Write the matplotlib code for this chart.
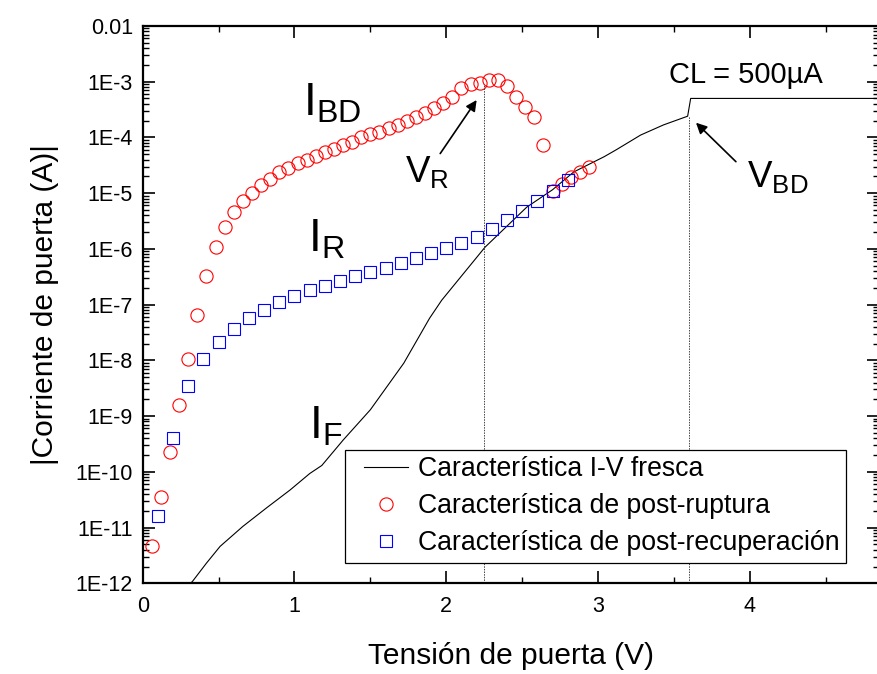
import matplotlib
matplotlib.use("Agg")
import matplotlib.pyplot as plt
import numpy as np
from matplotlib.lines import Line2D
from matplotlib.legend_handler import HandlerLine2D
from matplotlib.ticker import FixedLocator, MultipleLocator, LogLocator, NullFormatter

plt.rcParams['font.family'] = ['Liberation Sans', 'DejaVu Sans']
plt.rcParams['mathtext.fontset'] = 'custom'
plt.rcParams['mathtext.rm'] = 'Liberation Sans'
plt.rcParams['mathtext.it'] = 'Liberation Sans:italic'
plt.rcParams['mathtext.default'] = 'regular'

# fresh I-V characteristic (gate voltage in V, |I| in A)
fresh_v = [0.30, 0.33, 0.42, 0.51, 0.66, 0.82, 0.97, 1.10, 1.18, 1.32, 1.50, 1.72,
           1.89, 1.97, 2.255, 2.53, 2.70, 2.84, 3.04, 3.12, 3.28, 3.43, 3.59, 3.61, 4.85]
fresh_i = [9.0e-13, 1.1e-12, 2.3e-12, 4.6e-12, 1.05e-11, 2.3e-11, 4.7e-11, 9.3e-11,
           1.3e-10, 3.7e-10, 1.3e-9, 8.9e-9, 5.7e-8, 1.2e-7, 1.07e-6, 5.6e-6, 1.15e-5,
           2.4e-5, 4.5e-5, 6.0e-5, 1.1e-4, 1.67e-4, 2.4e-4, 5.0e-4, 5.0e-4]

# post-breakdown characteristic, 0.06 V step
bd_v = np.round(0.06 * np.arange(1, 50), 2)
bd_i = [4.7e-12, 3.5e-11, 2.3e-10, 1.55e-9, 1.05e-8, 6.6e-8, 3.2e-7, 1.1e-6, 2.45e-6,
        4.5e-6, 7.1e-6, 1.02e-5, 1.4e-5, 1.8e-5, 2.35e-5, 2.8e-5, 3.4e-5, 3.9e-5,
        4.7e-5, 5.4e-5, 6.3e-5, 7.2e-5, 8.3e-5, 1.0e-4, 1.15e-4, 1.26e-4, 1.48e-4,
        1.66e-4, 2.0e-4, 2.3e-4, 2.75e-4, 3.3e-4, 4.1e-4, 5.4e-4, 7.6e-4, 9.1e-4,
        9.5e-4, 1.05e-3, 1.07e-3, 8.3e-4, 5.2e-4, 3.5e-4, 2.3e-4, 7.2e-5, 1.1e-5,
        1.45e-5, 1.95e-5, 2.4e-5, 2.95e-5]

# post-recovery characteristic, 0.1 V step
rec_v = np.round(0.1 * np.arange(1, 29), 2)
rec_i = [1.6e-11, 4.0e-10, 3.5e-9, 1.05e-8, 2.1e-8, 3.6e-8, 5.8e-8, 7.9e-8, 1.1e-7,
         1.45e-7, 1.8e-7, 2.2e-7, 2.6e-7, 3.2e-7, 3.9e-7, 4.6e-7, 5.5e-7, 6.8e-7,
         8.3e-7, 1.02e-6, 1.3e-6, 1.66e-6, 2.25e-6, 3.3e-6, 4.8e-6, 7.2e-6, 1.1e-5,
         1.75e-5]

V_R, I_VR = 2.25, 9.1e-4
V_BD, I_VBD = 3.6, 2.4e-4

ytick_vals = [1e-12, 1e-11, 1e-10, 1e-9, 1e-8, 1e-7, 1e-6, 1e-5, 1e-4, 1e-3, 1e-2]
ytick_labels = ["1E-12", "1E-11", "1E-10", "1E-9", "1E-8", "1E-7", "1E-6", "1E-5",
                "1E-4", "1E-3", "0.01"]

fig = plt.figure(figsize=(8.77, 6.74), dpi=100)
ax = fig.add_axes([142.7 / 877, 1 - 583.3 / 674, (878.9 - 142.7) / 877, 557.4 / 674])

ax.plot(fresh_v, fresh_i, color="black", lw=0.8, label="Característica I-V fresca")
ax.plot(bd_v, bd_i, ls="none", marker="o", ms=9.5, mfc="none", mec="#ff0000", mew=0.8,
        label="Característica de post-ruptura")
ax.plot(rec_v, rec_i, ls="none", marker="s", ms=8.2, mfc="none", mec="#0000ff", mew=0.8,
        label="Característica de post-recuperación")

ax.vlines([V_R, V_BD], 1e-12, [I_VR, I_VBD], colors="#444444", lw=0.7,
          linestyles=(0, (1.5, 1.2)))

ax.set_yscale("log")
ax.set_xlim(0, 4.85)
ax.set_ylim(1e-12, 1e-2)
ax.yaxis.set_major_locator(FixedLocator(ytick_vals))
ax.set_yticklabels(ytick_labels)
ax.yaxis.set_minor_locator(LogLocator(base=10, subs=np.arange(2, 10), numticks=20))
ax.yaxis.set_minor_formatter(NullFormatter())
ax.xaxis.set_major_locator(MultipleLocator(1))
ax.xaxis.set_minor_locator(MultipleLocator(0.5))

ax.tick_params(which="both", direction="in", top=True, right=True, labelsize=15.5)
ax.tick_params(axis="x", pad=9)
ax.tick_params(axis="y", pad=7)
ax.tick_params(which="major", length=8.5, width=1.2)
ax.tick_params(which="minor", length=4.5, width=1.0)
for s in ax.spines.values():
    s.set_linewidth(1.6)

ax.set_xlabel("Tensión de puerta (V)", fontsize=21.5, labelpad=18)
ax.set_ylabel("|Corriente de puerta (A)|", fontsize=21.5, labelpad=12)

ax.text(1.053, 10**-3.60, r"$\mathregular{I_{BD}}$", fontsize=33, va="baseline", ha="left")
ax.text(1.09, 10**-6.05, r"$\mathregular{I_{R}}$", fontsize=33, va="baseline", ha="left")
ax.text(1.096, 10**-9.40, r"$\mathregular{I_{F}}$", fontsize=33, va="baseline", ha="left")
ax.text(1.728, 10**-4.795, r"$\mathregular{V_{R}}$", fontsize=26.5, va="baseline", ha="left")
ax.text(3.98, 10**-4.885, r"$\mathregular{V_{BD}}$", fontsize=26.5, va="baseline", ha="left")
ax.text(3.465, 10**-3.03, "CL = 500µA", fontsize=21, va="baseline", ha="left")

arrow = dict(arrowstyle="-|>", color="black", lw=1.2, mutation_scale=16, shrinkA=0, shrinkB=0)
ax.annotate("", xy=(2.20, 10**-3.33), xytext=(1.96, 10**-4.29), arrowprops=arrow)
ax.annotate("", xy=(3.645, 10**-3.737), xytext=(3.908, 10**-4.436), arrowprops=arrow)

leg = ax.legend(loc="lower left", bbox_to_anchor=(0.275, 0.037), fontsize=19.2,
                frameon=True, fancybox=False, edgecolor="black", framealpha=1,
                borderpad=0.24, handlelength=2.1, handletextpad=0.4, labelspacing=0.41,
                borderaxespad=0, handler_map={Line2D: HandlerLine2D(xpad=0.45)})
leg.get_frame().set_linewidth(0.9)

fig.savefig("out.png", dpi=100)
